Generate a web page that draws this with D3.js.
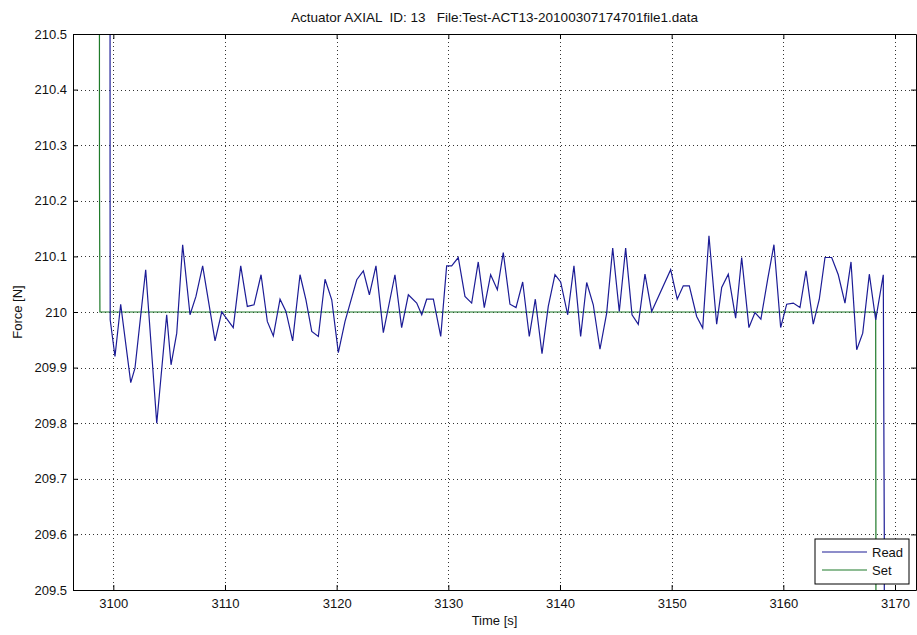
<!DOCTYPE html>
<html>
<head>
<meta charset="utf-8">
<script src="https://cdn.jsdelivr.net/npm/d3@7"></script>
<style>
  html, body { margin: 0; padding: 0; background: #fff; }
  svg { display: block; }
  text { font-family: "Liberation Sans", Arial, Helvetica, sans-serif; fill: #111; }
</style>
</head>
<body>
<svg id="chart" width="917" height="635"></svg>
<script>
// Actuator force log: measured ("Read") and commanded ("Set") force over time.
const chartTitle = "Actuator AXIAL  ID: 13   File:Test-ACT13-20100307174701file1.data";

const readTime = [
  3099.70, 3099.71, 3099.72,
  3100.15, 3100.66, 3101.56, 3101.94, 3102.90, 3103.89, 3104.78, 3105.17, 3105.68, 3106.21,
  3106.87, 3107.40, 3108.00, 3109.11, 3109.71, 3110.74, 3111.41, 3112.00, 3112.60, 3113.23,
  3113.79, 3114.33, 3114.93, 3115.46, 3116.06, 3116.72, 3117.25, 3117.77, 3118.36, 3118.96,
  3119.56, 3120.15, 3120.75, 3121.80, 3122.39, 3122.93, 3123.52, 3124.18, 3125.22, 3125.82,
  3126.42, 3127.17, 3127.62, 3128.06, 3128.66, 3129.32, 3129.85, 3130.30, 3130.89, 3131.49,
  3132.09, 3132.68, 3133.22, 3133.79, 3134.39, 3134.92, 3135.52, 3136.06, 3136.66, 3137.25,
  3137.79, 3138.39, 3138.95, 3139.55, 3140.06, 3140.69, 3141.25, 3141.85, 3142.39, 3142.98,
  3143.58, 3144.18, 3144.72, 3145.31, 3145.88, 3146.45, 3147.01, 3147.61, 3148.21, 3149.91,
  3150.50, 3151.04, 3151.58, 3152.24, 3152.78, 3153.34, 3154.03, 3154.48, 3155.07, 3155.73,
  3156.27, 3156.92, 3157.46, 3157.99, 3158.60, 3159.16, 3159.76, 3160.30, 3160.89, 3161.49,
  3162.03, 3162.68, 3163.22, 3163.73, 3164.33, 3164.92, 3165.52, 3166.06, 3166.57, 3167.11,
  3167.70, 3168.27, 3168.95, 3169.04, 3169.06
];
const readForce = [
  212.000, 210.250, 209.986,
  209.920, 210.014, 209.873, 209.899, 210.076, 209.800, 209.995, 209.905, 209.962, 210.121,
  209.995, 210.028, 210.083, 209.948, 210.000, 209.972, 210.083, 210.010, 210.013, 210.067,
  209.983, 209.957, 210.023, 210.001, 209.948, 210.067, 210.022, 209.965, 209.956, 210.059,
  210.022, 209.927, 209.983, 210.058, 210.074, 210.031, 210.083, 209.963, 210.067, 209.972,
  210.031, 210.016, 209.995, 210.023, 210.023, 209.956, 210.083, 210.083, 210.098, 210.028,
  210.016, 210.090, 210.008, 210.067, 210.040, 210.107, 210.014, 210.008, 210.054, 209.956,
  210.023, 209.925, 210.010, 210.067, 210.054, 209.995, 210.083, 209.956, 210.053, 210.013,
  209.933, 209.998, 210.115, 210.001, 210.115, 209.995, 209.978, 210.068, 210.001, 210.076,
  210.023, 210.047, 210.047, 209.992, 209.971, 210.137, 209.978, 210.044, 210.068, 209.989,
  210.098, 209.972, 209.999, 209.987, 210.059, 210.121, 209.972, 210.014, 210.016, 210.008,
  210.074, 209.978, 210.023, 210.098, 210.098, 210.067, 210.016, 210.090, 209.932, 209.962,
  210.068, 209.986, 210.067, 209.600, 208.000
];

const setTime  = [3098.74, 3098.76, 3098.80, 3168.27, 3168.29, 3168.32];
const setForce = [212.000, 210.250, 210.000, 210.000, 209.600, 208.000];

const xTicks = [3100, 3110, 3120, 3130, 3140, 3150, 3160, 3170];
const yTicks = [209.5, 209.6, 209.7, 209.8, 209.9, 210, 210.1, 210.2, 210.3, 210.4, 210.5];
const xDomain = [3096.39, 3171.88];
const yDomain = [209.5, 210.5];

const seriesNames = ["Read", "Set"];
const seriesColors = ["#1c1c96", "#1f7a2a"];

// Layout
const W = 917, H = 635;
const m = { left: 73, top: 34, right: 1, bottom: 45 };
const pw = W - m.left - m.right;
const ph = H - m.top - m.bottom;

const svg = d3.select("#chart");
const x = d3.scaleLinear().domain(xDomain).range([0, pw]);
const y = d3.scaleLinear().domain(yDomain).range([ph, 0]);

const g = svg.append("g").attr("transform", `translate(${m.left},${m.top})`);

svg.append("defs").append("clipPath").attr("id", "plotclip")
  .append("rect").attr("x", 0).attr("y", 0).attr("width", pw).attr("height", ph);

// Dotted grid
const grid = g.append("g").attr("class", "grid");
grid.selectAll("line.gx").data(xTicks).join("line")
  .attr("x1", d => Math.round(x(d)) + 0.5).attr("x2", d => Math.round(x(d)) + 0.5)
  .attr("y1", 0).attr("y2", ph)
  .attr("stroke", "#333").attr("stroke-width", 1).attr("stroke-dasharray", "1,3");
grid.selectAll("line.gy").data(yTicks).join("line")
  .attr("y1", d => Math.round(y(d)) + 0.5).attr("y2", d => Math.round(y(d)) + 0.5)
  .attr("x1", 0).attr("x2", pw)
  .attr("stroke", "#333").attr("stroke-width", 1).attr("stroke-dasharray", "1,3");

// Data lines
const plot = g.append("g").attr("clip-path", "url(#plotclip)");
const lineGen = d3.line().x(d => x(d[0])).y(d => y(d[1]));
const setPts = setTime.map((t, i) => [t, setForce[i]]);
const readPts = readTime.map((t, i) => [t, readForce[i]]);
plot.append("path").datum(setPts).attr("d", lineGen)
  .attr("fill", "none").attr("stroke", seriesColors[1]).attr("stroke-width", 1.2);
plot.append("path").datum(readPts).attr("d", lineGen)
  .attr("fill", "none").attr("stroke", seriesColors[0]).attr("stroke-width", 1.2)
  .attr("stroke-linejoin", "miter");

// Axes with inward ticks on all four sides
const fmtY = d => d3.format(".1f")(d).replace(/\.0$/, "");
const axB = g.append("g").attr("transform", `translate(0,${ph})`)
  .call(d3.axisBottom(x).tickValues(xTicks).tickSizeInner(-5).tickSizeOuter(0).tickPadding(9).tickFormat(d3.format("d")));
const axT = g.append("g")
  .call(d3.axisTop(x).tickValues(xTicks).tickSizeInner(-5).tickSizeOuter(0).tickFormat(""));
const axL = g.append("g")
  .call(d3.axisLeft(y).tickValues(yTicks).tickSizeInner(-5).tickSizeOuter(0).tickPadding(6).tickFormat(fmtY));
const axR = g.append("g").attr("transform", `translate(${pw},0)`)
  .call(d3.axisRight(y).tickValues(yTicks).tickSizeInner(-5).tickSizeOuter(0).tickFormat(""));

[axB, axT, axL, axR].forEach(a => {
  a.select(".domain").attr("stroke", "#000").attr("stroke-width", 1);
  a.selectAll(".tick line").attr("stroke", "#000");
  a.selectAll("text").attr("font-size", 13).attr("font-family", "Liberation Sans, Arial, sans-serif").attr("fill", "#111");
});

// Title and axis labels
svg.append("text").attr("x", m.left + pw / 2).attr("y", 22).attr("text-anchor", "middle")
  .attr("font-size", 13.5).style("white-space", "pre").attr("xml:space", "preserve").text(chartTitle);
svg.append("text").attr("x", m.left + pw / 2).attr("y", 625).attr("text-anchor", "middle")
  .attr("font-size", 13).text("Time [s]");
svg.append("text").attr("transform", `translate(22,${m.top + ph / 2}) rotate(-90)`)
  .attr("text-anchor", "middle").attr("font-size", 13).text("Force [N]");

// Legend
const lg = svg.append("g").attr("transform", "translate(815,539)");
lg.append("rect").attr("x", 0).attr("y", 0).attr("width", 94).attr("height", 45)
  .attr("fill", "#fff").attr("stroke", "#000").attr("stroke-width", 1);
seriesNames.forEach((name, i) => {
  const yy = 13 + i * 18;
  lg.append("line").attr("x1", 7).attr("x2", 52).attr("y1", yy).attr("y2", yy)
    .attr("stroke", seriesColors[i]).attr("stroke-width", 1.2);
  lg.append("text").attr("x", 57).attr("y", yy + 4.5).attr("font-size", 13).text(name);
});
</script>
</body>
</html>
